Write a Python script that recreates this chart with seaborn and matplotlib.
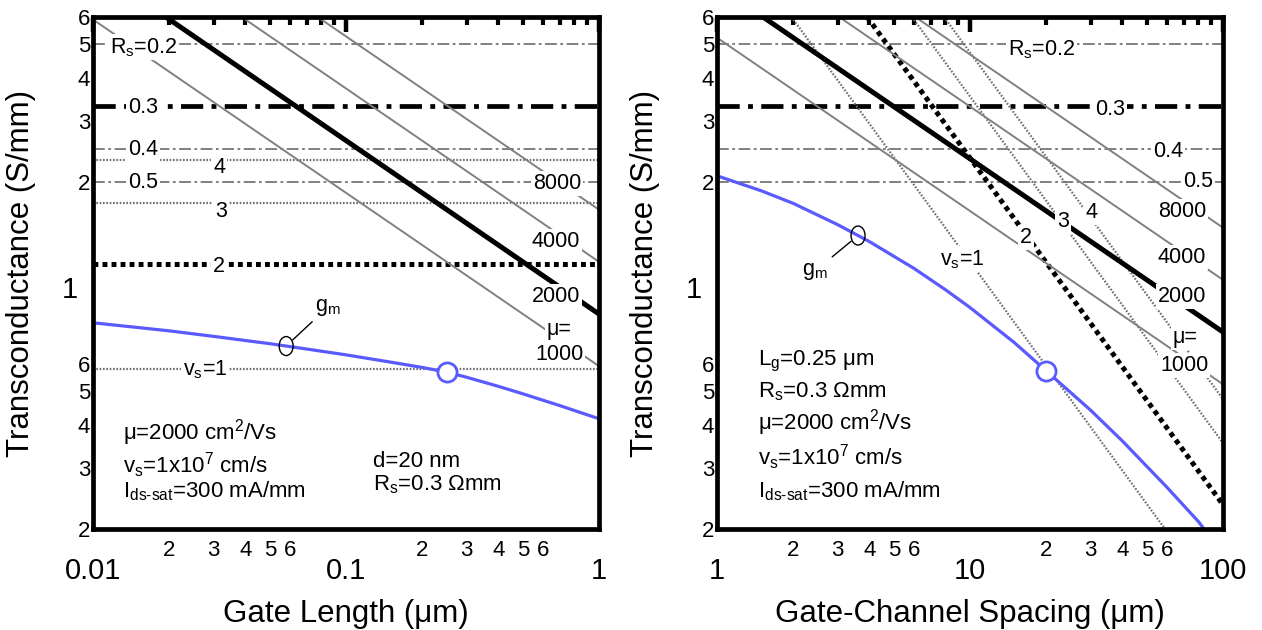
import numpy as np
import matplotlib
matplotlib.use("Agg")
import matplotlib.pyplot as plt
import matplotlib.ticker as mticker
import matplotlib.transforms as mtransforms
from matplotlib.patches import Ellipse
import seaborn as sns

# ---------------- data ----------------
# extrinsic transconductance (S/mm) vs gate length (um)
gate_length = [0.01, 0.02, 0.03, 0.05, 0.07, 0.1, 0.15, 0.2, 0.25, 0.3, 0.4, 0.5, 0.7, 1.0]
gm_vs_length = [0.787, 0.746, 0.719, 0.685, 0.661, 0.636, 0.606, 0.585, 0.567,
                0.548, 0.516, 0.491, 0.454, 0.416]

# extrinsic transconductance (S/mm) vs gate-channel spacing
spacing = [1, 1.5, 2, 3, 4, 6, 8, 10, 15, 20, 30, 40, 60, 80, 85]
gm_vs_spacing = [2.09, 1.89, 1.74, 1.51, 1.35, 1.13, 0.98, 0.871, 0.689, 0.572,
                 0.44, 0.359, 0.264, 0.21, 0.198]

# operating point (Lg = 0.25 um, d = 20)
op_length, op_gm_length = 0.25, 0.567
op_spacing, op_gm_spacing = 20, 0.572

# source-resistance limits 1/Rs
rs_values = ["0.2", "0.3", "0.4", "0.5"]
rs_limit = [5.0, 3.33, 2.5, 2.0]

# saturation-velocity limits (vs in 1e7 cm/s)
vs_values = [1, 2, 3, 4]
vs_limit_length = [0.58, 1.16, 1.74, 2.32]
vs_spacing_x = [[1.97, 59], [3.92, 100], [5.9, 100], [7.9, 100]]
vs_spacing_y = [[6.0, 0.2], [6.0, 0.235], [6.0, 0.354], [6.0, 0.474]]

# mobility limits (mu in cm^2/Vs)
mobility_values = [1000, 2000, 4000, 8000]
mob_length_x = [[0.01, 1.0], [0.0194, 1.0], [0.0387, 1.0], [0.0773, 1.0]]
mob_length_y = [[5.9, 0.59], [6.0, 0.834], [6.0, 1.18], [6.0, 1.668]]
mob_spacing_x = [[1.0, 100], [1.52, 100], [3.04, 100], [6.08, 100]]
mob_spacing_y = [[5.23, 0.523], [6.0, 0.74], [6.0, 1.047], [6.0, 1.48]]

# ---------------- style ----------------
sns.set_theme(style="white")
plt.rcParams.update({
    "font.family": ["Liberation Sans", "DejaVu Sans"],
    "mathtext.fontset": "custom",
    "mathtext.rm": "Liberation Sans",
    "mathtext.it": "Liberation Sans:italic",
    "mathtext.bf": "Liberation Sans:bold",
    "lines.scale_dashes": False,
    "axes.linewidth": 3.4,
    "axes.edgecolor": "black",
    "axes.labelcolor": "black",
    "xtick.color": "black",
    "ytick.color": "black",
    "text.color": "black",
})

GRAY = "#808080"
DOT_GRAY = "#707070"
BLUE = "#5a5aff"
THIN_DASHDOT = (0, (8.5, 2.5, 2.0, 2.5))
THICK_DASHDOT = (0, (16, 6, 3.5, 6))
THIN_DOT = (0, (1.2, 1.2))
THICK_DOT = (0, (3.5, 3.0))

W, H = 1262, 630
fig = plt.figure(figsize=(W / 100, H / 100), dpi=100)
AX_W, AX_H, AX_TOP = 506, 512, 17
lefts = [93, 717]
axes = [fig.add_axes([l / W, (H - AX_TOP - AX_H) / H, AX_W / W, AX_H / H]) for l in lefts]


def put(ax, left, px, py, s, size=15.5, ha="left", box=True):
    """Place text with its baseline at figure pixel (px, py)."""
    fx = (px - left) / AX_W
    fy = (AX_TOP + AX_H - py) / AX_H
    kw = dict(transform=ax.transAxes, ha=ha, va="baseline", fontsize=size, zorder=8)
    if box:
        kw["bbox"] = dict(boxstyle="square,pad=0.08", fc="white", ec="none")
    return ax.text(fx, fy, s, **kw)


def interp_loglog(x, xs, ys):
    return 10 ** np.interp(np.log10(x), np.log10(xs), np.log10(ys))


def ring_and_label(ax, x, xs, ys, text_xy):
    y = interp_loglog(x, xs, ys)
    trans = fig.dpi_scale_trans + mtransforms.ScaledTranslation(x, y, ax.transData)
    ax.add_patch(Ellipse((0, 0), width=0.14, height=0.19, transform=trans,
                         fill=False, ec="black", lw=1.0, zorder=7))
    ax.annotate("g$_\\mathrm{m}$", xy=(x, y), xycoords="data",
                xytext=text_xy, textcoords="axes fraction", fontsize=15.5,
                ha="center", va="center", zorder=8,
                arrowprops=dict(arrowstyle="-", color="black", lw=1.0,
                                shrinkA=1, shrinkB=6.5))


def style_axis(ax, xlim, xlabel):
    ax.set_xscale("log")
    ax.set_yscale("log")
    ax.set_xlim(*xlim)
    ax.set_ylim(0.2, 6)
    for sp in ax.spines.values():
        sp.set_linewidth(3.4)
        sp.set_zorder(10)
    ax.xaxis.set_major_locator(mticker.LogLocator(base=10, numticks=10))
    ax.xaxis.set_minor_locator(mticker.LogLocator(base=10, subs=np.arange(2, 10), numticks=30))
    ax.yaxis.set_major_locator(mticker.FixedLocator([1.0]))
    ax.yaxis.set_minor_locator(mticker.LogLocator(base=10, subs=np.arange(2, 10), numticks=30))

    def lead(v):
        d = int(round(v / 10 ** np.floor(np.log10(v) + 1e-9)))
        return str(d) if 2 <= d <= 6 else ""

    ax.xaxis.set_major_formatter(mticker.FuncFormatter(lambda v, p: f"{v:g}"))
    ax.xaxis.set_minor_formatter(mticker.FuncFormatter(lambda v, p: lead(v)))
    ax.yaxis.set_major_formatter(mticker.FuncFormatter(lambda v, p: f"{v:g}"))
    ax.yaxis.set_minor_formatter(mticker.FuncFormatter(lambda v, p: lead(v)))

    ax.tick_params(which="both", direction="in", top=True, right=False,
                   color="black", labelcolor="black")
    ax.tick_params(which="major", length=11, width=3.2)
    ax.tick_params(which="minor", length=5.5, width=3.0)
    ax.tick_params(axis="x", which="major", labelsize=21, pad=20)
    ax.tick_params(axis="x", which="minor", labelsize=16, pad=8)
    ax.tick_params(axis="y", which="major", labelsize=21, pad=11)
    ax.tick_params(axis="y", which="minor", labelsize=16, pad=2)

    ax.set_xlabel(xlabel, fontsize=22.5)
    ax.set_ylabel("Transconductance (S/mm)", fontsize=22.5)
    ax.xaxis.set_label_coords(0.5, -0.136)
    ax.yaxis.set_label_coords(-0.112, 0.5)


def draw_line(ax, xs, ys, color, lw, ls, z=3):
    sns.lineplot(x=xs, y=ys, ax=ax, color=color, linewidth=lw, linestyle=ls,
                 sort=False, estimator=None, legend=False, zorder=z)


# ---------------- left panel: gate length ----------------
ax = axes[0]
style_axis(ax, (0.01, 1), "Gate Length (\u03bcm)")
xr = [0.01, 1.0]
for lab, g in zip(rs_values, rs_limit):
    thick = lab == "0.3"
    draw_line(ax, xr, [g, g], "black" if thick else GRAY,
              3.4 if thick else 1.4, THICK_DASHDOT if thick else THIN_DASHDOT)
for v, g in zip(vs_values, vs_limit_length):
    thick = v == 2
    draw_line(ax, xr, [g, g], "black" if thick else DOT_GRAY,
              3.6 if thick else 1.6, THICK_DOT if thick else THIN_DOT)
for mu, xs, ys in zip(mobility_values, mob_length_x, mob_length_y):
    thick = mu == 2000
    draw_line(ax, xs, ys, "black" if thick else GRAY, 3.6 if thick else 1.4, "-")
draw_line(ax, gate_length, gm_vs_length, BLUE, 2.3, "-", z=5)
sns.scatterplot(x=[op_length], y=[op_gm_length], ax=ax, s=190, facecolor="white",
                edgecolor=BLUE, linewidth=2.0, zorder=6, legend=False)
ring_and_label(ax, 0.058, gate_length, gm_vs_length, ((328 - 93) / AX_W, (529 - 307) / AX_H))

L = lefts[0]
put(ax, L, 110, 53, "R$_\\mathrm{s}$=0.2")
put(ax, L, 128, 113, "0.3")
put(ax, L, 128, 155, "0.4")
put(ax, L, 128, 188, "0.5")
put(ax, L, 213, 173, "4")
put(ax, L, 215, 217, "3")
put(ax, L, 213, 272, "2")
put(ax, L, 533, 189, "8000")
put(ax, L, 532, 247, "4000")
put(ax, L, 532, 302, "2000")
put(ax, L, 547, 335, "\u03bc=")
put(ax, L, 535, 360, "1000")
put(ax, L, 183, 375, "v$_\\mathrm{s}$=1")
put(ax, L, 123, 440, "\u03bc=2000 cm$^\\mathrm{2}$/Vs", size=16, box=False)
put(ax, L, 123, 473, "v$_\\mathrm{s}$=1x10$^\\mathrm{7}$ cm/s", size=16, box=False)
put(ax, L, 123, 497, "I$_\\mathrm{ds\\text{-}sat}$=300 mA/mm", size=16, box=False)
put(ax, L, 373, 467, "d=20 nm", size=16, box=False)
put(ax, L, 373, 490, "R$_\\mathrm{s}$=0.3 \u03a9mm", size=16, box=False)

# ---------------- right panel: gate-channel spacing ----------------
ax = axes[1]
style_axis(ax, (1, 100), "Gate-Channel Spacing (\u03bcm)")
xr = [1.0, 100.0]
for lab, g in zip(rs_values, rs_limit):
    thick = lab == "0.3"
    draw_line(ax, xr, [g, g], "black" if thick else GRAY,
              3.4 if thick else 1.4, THICK_DASHDOT if thick else THIN_DASHDOT)
for v, xs, ys in zip(vs_values, vs_spacing_x, vs_spacing_y):
    thick = v == 2
    draw_line(ax, xs, ys, "black" if thick else DOT_GRAY,
              3.6 if thick else 1.6, THICK_DOT if thick else THIN_DOT)
for mu, xs, ys in zip(mobility_values, mob_spacing_x, mob_spacing_y):
    thick = mu == 2000
    draw_line(ax, xs, ys, "black" if thick else GRAY, 3.6 if thick else 1.4, "-")
draw_line(ax, spacing, gm_vs_spacing, BLUE, 2.3, "-", z=5)
sns.scatterplot(x=[op_spacing], y=[op_gm_spacing], ax=ax, s=190, facecolor="white",
                edgecolor=BLUE, linewidth=2.0, zorder=6, legend=False)
ring_and_label(ax, 3.61, spacing, gm_vs_spacing, ((815 - 717) / AX_W, (529 - 271) / AX_H))

L = lefts[1]
put(ax, L, 1008, 55, "R$_\\mathrm{s}$=0.2")
put(ax, L, 1095, 115, "0.3")
put(ax, L, 1153, 157, "0.4")
put(ax, L, 1183, 187, "0.5")
put(ax, L, 1158, 217, "8000")
put(ax, L, 1158, 263, "4000")
put(ax, L, 1158, 302, "2000")
put(ax, L, 1173, 343, "\u03bc=")
put(ax, L, 1160, 371, "1000")
put(ax, L, 940, 265, "v$_\\mathrm{s}$=1")
put(ax, L, 1020, 243, "2")
put(ax, L, 1057, 227, "3")
put(ax, L, 1085, 218, "4")
put(ax, L, 758, 365, "L$_\\mathrm{g}$=0.25 \u03bcm", size=16, box=False)
put(ax, L, 758, 397, "R$_\\mathrm{s}$=0.3 \u03a9mm", size=16, box=False)
put(ax, L, 758, 430, "\u03bc=2000 cm$^\\mathrm{2}$/Vs", size=16, box=False)
put(ax, L, 758, 465, "v$_\\mathrm{s}$=1x10$^\\mathrm{7}$ cm/s", size=16, box=False)
put(ax, L, 758, 497, "I$_\\mathrm{ds\\text{-}sat}$=300 mA/mm", size=16, box=False)

fig.savefig("out.png", dpi=100)
